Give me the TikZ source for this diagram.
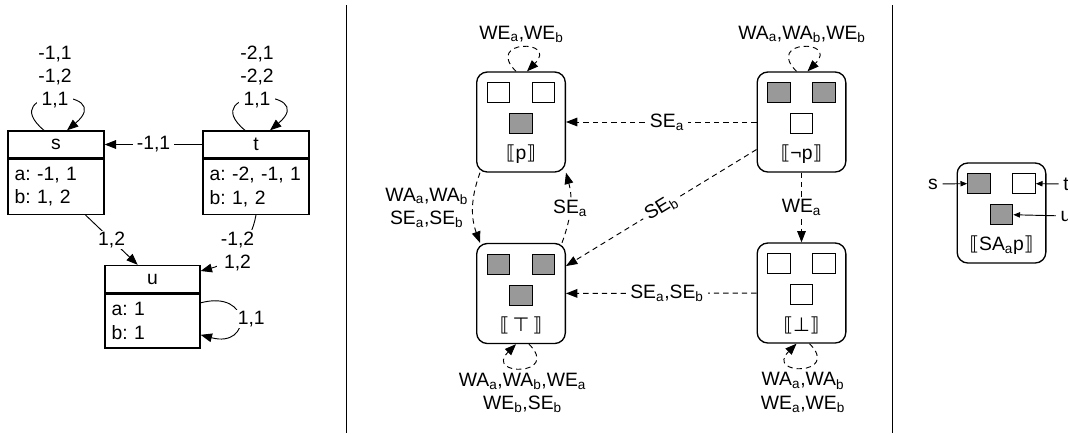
\documentclass[tikz,border=0pt]{standalone}
\usepackage{fontspec}
\setmainfont{Liberation Sans}
\newfontfamily\symfont{DejaVu Sans}
\usetikzlibrary{arrows.meta,positioning}
\frenchspacing

\definecolor{cellgray}{gray}{0.6}
\newcommand\agt[1]{\textsubscript{#1}}
\newcommand\sem[1]{{\symfont ⟦}#1{\symfont ⟧}}
% world: name, position, left, right, middle fill, label
\newcommand\worldbox[6]{%
  \node[world] (#1) at (#2) {};
  \node[cell, fill=#3] (#1-l) at ([shift={(-16.9pt,22.1pt)}]#1.center) {};
  \node[cell, fill=#4] (#1-r) at ([shift={(16.9pt,22.1pt)}]#1.center) {};
  \node[cell, fill=#5] (#1-m) at ([shift={(0pt,-1.1pt)}]#1.center) {};
  \node (#1-v) at ([yshift=-24pt]#1.center) {#6};}

\begin{document}
\begin{tikzpicture}[x=0.75pt, y=-0.75pt, font=\fontsize{14.5}{17.5}\selectfont,
    cls/.style={draw, line width=1pt, minimum height=20.25pt, inner sep=0pt},
    attr/.style={draw, line width=1pt, align=left, minimum height=41.25pt, inner xsep=5pt},
    world/.style={draw, line width=1pt, rounded corners=8pt, minimum width=66.5pt, minimum height=75pt},
    cell/.style={draw, line width=0.7pt, minimum width=17pt, minimum height=15pt, inner sep=0pt},
    arw/.style={-{Triangle[length=8.5pt,width=6.5pt]}},
    lbl/.style={fill=white, inner xsep=3pt, inner ysep=1pt}]
  \useasboundingbox (0,0) rectangle (1068,433);

  % model
  \node[cls, minimum width=72pt] (S) at (56,144.5) {s};
  \node[attr, text width=62pt, below=0pt of S] (Sb) {a: -1, 1\\b: 1, 2};
  \node[cls, minimum width=79.5pt] (T) at (256,144.5) {t};
  \node[attr, text width=69.5pt, below=0pt of T] (Tb) {a: -2, -1, 1\\b: 1, 2};
  \node[cls, minimum width=71.25pt] (U) at (152.5,279) {u};
  \node[attr, text width=61.25pt, minimum height=40.5pt, below=0pt of U] (Ub) {a: 1\\b: 1};
  \begin{scope}[every edge/.style={draw, line width=0.7pt, arw}]
    \path ([xshift=-9pt]S.north) edge[out=140, in=40, distance=50pt] ([xshift=8.25pt]S.north);
    \path ([xshift=-8.25pt]T.north) edge[out=140, in=40, distance=50pt] ([xshift=10.5pt]T.north);
    \path (T) edge node[lbl] (ts) {-1,1} (S);
    \path (Sb) edge node[lbl] (su) {1,2} (U);
    \path (Tb.south) edge[out=-100, in=15] node[lbl, align=center] (tu) {-1,2\\1,2} ([yshift=6pt]U.east);
    \path ([yshift=13.5pt]Ub.east) edge[out=15, in=-15, distance=40pt]
      node[lbl, xshift=9pt] (uu) {1,1} ([yshift=-10.5pt]Ub.east);
  \end{scope}
  \node[lbl, inner xsep=1pt, align=center] (ss) at (55,77) {-1,1\\-1,2\\1,1};
  \node[lbl, inner xsep=1pt, align=center] (tt) at (257,77) {-2,1\\-2,2\\1,1};

  \draw[line width=1pt] (346.7,5) -- (346.7,433);
  \draw[line width=1pt] (892.7,5) -- (892.7,433);

  % worlds
  \worldbox{P}{521,122}{white}{white}{cellgray}{\sem{p}}
  \worldbox{NP}{801.5,122}{cellgray}{cellgray}{white}{\sem{¬p}}
  \worldbox{TOP}{521,293.5}{cellgray}{cellgray}{cellgray}{\sem{\,{\symfont ⊤}\,}}
  \worldbox{BOT}{801.5,293}{white}{white}{white}{\sem{{\symfont ⊥}}}
  \begin{scope}[every edge/.style={draw, line width=0.7pt, arw, dash pattern=on 4pt off 3pt}]
    \path (NP) edge node[lbl, pos=0.47] (npp) {SE\agt{a}} (P);
    \path (NP) edge node[lbl, sloped] (nptop) {SE\agt{b}} (TOP);
    \path (BOT) edge node[lbl, pos=0.47] (bottop) {SE\agt{a},SE\agt{b}} (TOP);
    \path (NP) edge node[lbl] (npbot) {WE\agt{a}} (BOT);
    \path ([xshift=3pt]P.south west) edge[out=-110, in=110]
      node[left, align=center] (ptop) {WA\agt{a},WA\agt{b}\\SE\agt{a},SE\agt{b}} ([xshift=3pt]TOP.north west);
    \path ([xshift=-3pt]TOP.north east) edge[out=70, in=-75] node[lbl] (topp) {SE\agt{a}} (P.south east);
    \path ([xshift=-3.75pt]P.north) edge[out=135, in=45, distance=34pt]
      node[above] (pp) {WE\agt{a},WE\agt{b}} ([xshift=4.5pt]P.north);
    \path ([xshift=-3.75pt]NP.north) edge[out=135, in=45, distance=34pt]
      node[above] (npnp) {WA\agt{a},WA\agt{b},WE\agt{b}} ([xshift=4.5pt]NP.north);
    \path ([xshift=6pt]TOP.south) edge[out=-45, in=-135, distance=34pt]
      node[below, align=center] (toptop) {WA\agt{a},WA\agt{b},WE\agt{a}\\WE\agt{b},SE\agt{b}} ([xshift=-3.75pt]TOP.south);
    \path ([xshift=6pt]BOT.south) edge[out=-45, in=-135, distance=34pt]
      node[below, align=center] (botbot) {WA\agt{a},WA\agt{b}\\WE\agt{a},WE\agt{b}} ([xshift=-3.75pt]BOT.south);
  \end{scope}

  % pointed model
  \worldbox{SAP}{1001.5,213}{cellgray}{white}{cellgray}{\sem{SA\agt{a}p}}
  \node (sR) at (933,184) {s};
  \node (tR) at (1066,184) {t};
  \node (uR) at (1066,216) {u};
  \begin{scope}[every edge/.style={draw, line width=0.7pt, -{Triangle[length=5pt,width=4pt]}}]
    \path (sR) edge (SAP-l);
    \path (tR) edge (SAP-r);
    \path (uR) edge (SAP-m);
  \end{scope}
\end{tikzpicture}
\end{document}
